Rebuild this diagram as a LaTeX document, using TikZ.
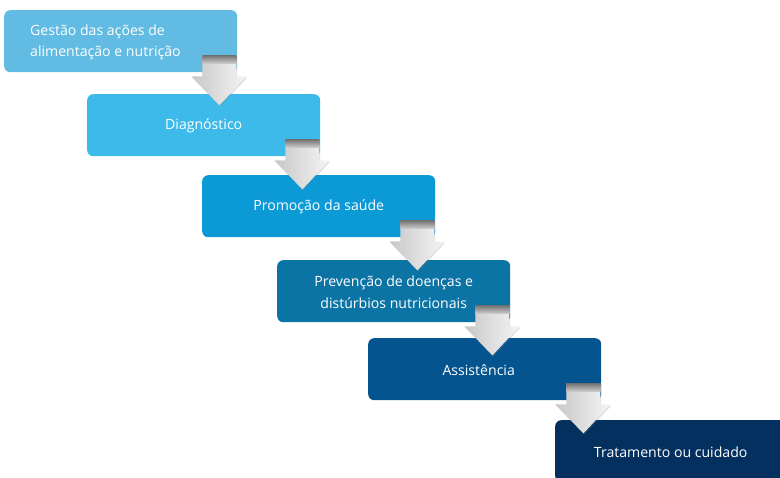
\documentclass[tikz,border=0pt]{standalone}
\usepackage{fontspec}
\setmainfont{Open Sans}
\usetikzlibrary{calc,shadows}

\definecolor{stepA}{HTML}{62BBE2}
\definecolor{stepB}{HTML}{3EBAEA}
\definecolor{stepC}{HTML}{0C9AD7}
\definecolor{stepD}{HTML}{0B74A5}
\definecolor{stepE}{HTML}{04558F}
\definecolor{stepF}{HTML}{03305F}

\tikzset{
  stepbox/.style={rounded corners=6pt, anchor=north west,
    minimum width=233pt, minimum height=62pt, inner sep=0pt},
  steptext/.style={text=white, font=\fontsize{14.1}{21.5}\selectfont,
    align=center, inner sep=0pt},
  downarrow/.style={left color=black!22, right color=black!4, shading angle=90,
    drop shadow={opacity=0.25, shadow xshift=0.8pt, shadow yshift=-1.2pt}},
  shaftshade/.style={top color=black!55, bottom color=black!20},
}

% Thick down arrow starting at the lower right corner of box #1
\newcommand{\steparrow}[1]{%
  \path[downarrow]
    ($(#1.south east)+(-35,-17)$) -- ($(#1.south east)+(-1,-17)$)
    -- ($(#1.south east)+(-1,4)$) -- ($(#1.south east)+(9,4)$)
    -- ($(#1.south east)+(-18,33)$) -- ($(#1.south east)+(-46,4)$)
    -- ($(#1.south east)+(-35,4)$) -- cycle;
  \shade[shaftshade]
    ($(#1.south east)+(-35,-17)$) rectangle ($(#1.south east)+(-1,-9)$);
}

\begin{document}
\begin{tikzpicture}[x=1pt,y=-1pt]
  \useasboundingbox (0,0) rectangle (780,478);
  \clip (0,0) rectangle (780,478);

  % step boxes
  \node[stepbox, fill=stepA] (b1) at (4,10) {};
  \node[stepbox, fill=stepB] (b2) at (87,94) {};
  \node[stepbox, fill=stepC] (b3) at (202,175) {};
  \node[stepbox, fill=stepD] (b4) at (277,260) {};
  \node[stepbox, fill=stepE] (b5) at (368,338) {};
  \node[stepbox, fill=stepF] (b6) at (555,420) {};

  % labels
  \node[steptext, anchor=west, align=left] (t1) at ($(b1.west)+(26,1)$)
    {Gestão das ações de\\alimentação e nutrição};
  \node[steptext] (t2) at ($(b2.center)+(0,1)$) {Diagnóstico};
  \node[steptext] (t3) at ($(b3.center)+(0,1)$) {Promoção da saúde};
  \node[steptext] (t4) at ($(b4.center)+(0,1)$)
    {Prevenção de doenças e\\distúrbios nutricionais};
  \node[steptext] (t5) at ($(b5.center)+(-6,1)$) {Assistência};
  \node[steptext] (t6) at ($(b6.center)+(-1,1)$) {Tratamento ou cuidado};

  % arrows between consecutive steps
  \steparrow{b1}
  \steparrow{b2}
  \steparrow{b3}
  \steparrow{b4}
  \steparrow{b5}
\end{tikzpicture}
\end{document}
